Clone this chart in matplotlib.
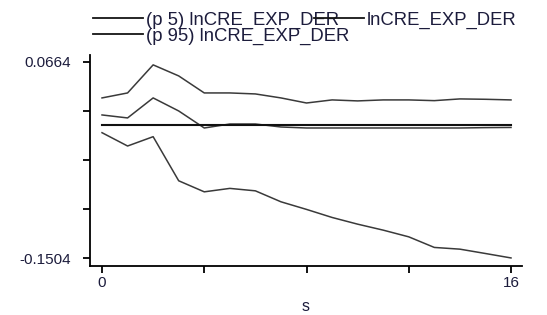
import matplotlib
matplotlib.use("Agg")

import matplotlib.pyplot as plt
from matplotlib.lines import Line2D

plt.rcParams["font.family"] = ["Liberation Sans", "DejaVu Sans"]

# step and the three irf bands
steps = list(range(17))
p5 = [-0.0118, -0.0265, -0.0162, -0.0649, -0.0771, -0.0733, -0.0760, -0.0881,
      -0.0965, -0.1054, -0.1128, -0.1194, -0.1268, -0.1385, -0.1404, -0.1452, -0.1501]
est = [0.0078, 0.0045, 0.0266, 0.0122, -0.0066, -0.0022, -0.0022, -0.0055,
       -0.0066, -0.0066, -0.0066, -0.0066, -0.0066, -0.0066, -0.0066, -0.0062, -0.0060]
p95 = [0.0266, 0.0321, 0.0631, 0.0509, 0.0321, 0.0321, 0.0310, 0.0266,
       0.0210, 0.0244, 0.0233, 0.0244, 0.0244, 0.0236, 0.0255, 0.0251, 0.0244]
ref_level = -0.0033

yticks = [0.0664, 0.0122, -0.0420, -0.0962, -0.1504]
ytick_labels = ["0.0664", "", "", "", "-0.1504"]
xticks = [0, 4, 8, 12, 16]
xtick_labels = ["0", "", "", "", "16"]
series_name = "lnCRE_EXP_DER"

fig = plt.figure(figsize=(5.47, 3.15), dpi=100)
ax = fig.add_axes([90 / 547, 1 - 266 / 315, 432 / 547, 211 / 315])

line_col = "#3a3a3a"
ax.plot(steps, p5, color=line_col, lw=1.1)
ax.plot(steps, est, color=line_col, lw=1.1)
ax.plot(steps, p95, color=line_col, lw=1.1)
ax.axhline(ref_level, xmin=(0 + 0.47) / 16.9, xmax=(16 + 0.47) / 16.9,
           color="#111111", lw=1.5)

ax.set_xlim(-0.47, 16.43)
ax.set_ylim(-0.159, 0.074)

ax.spines["top"].set_visible(False)
ax.spines["right"].set_visible(False)
for s in ("left", "bottom"):
    ax.spines[s].set_linewidth(1.3)

lab_col = "#1c1c3c"
ax.set_yticks(yticks)
ax.set_yticklabels(ytick_labels, fontsize=11, color=lab_col)
ax.set_xticks(xticks)
ax.set_xticklabels(xtick_labels, fontsize=11, color=lab_col)
ax.tick_params(axis="y", length=5, width=1.3, pad=9)
ax.tick_params(axis="x", length=5, width=1.3, pad=2)
ax.set_xlabel("s", fontsize=11.5, color=lab_col, labelpad=7)

# legend keys: plain dark lines like the Stata legend
handles = [Line2D([], [], color="#151515", lw=1.3) for _ in range(3)]
labels = ["(p 5) " + series_name, "(p 95) " + series_name, series_name]
fig.legend(handles, labels, loc="upper left",
           bbox_to_anchor=(86 / 547, 1 - 4 / 315), ncol=2, frameon=False,
           fontsize=13.3, handlelength=2.7, handletextpad=0.15,
           columnspacing=-1.9, labelspacing=-0.05, borderaxespad=0,
           labelcolor="#1c1c3c")

fig.savefig("out.png", dpi=100)
